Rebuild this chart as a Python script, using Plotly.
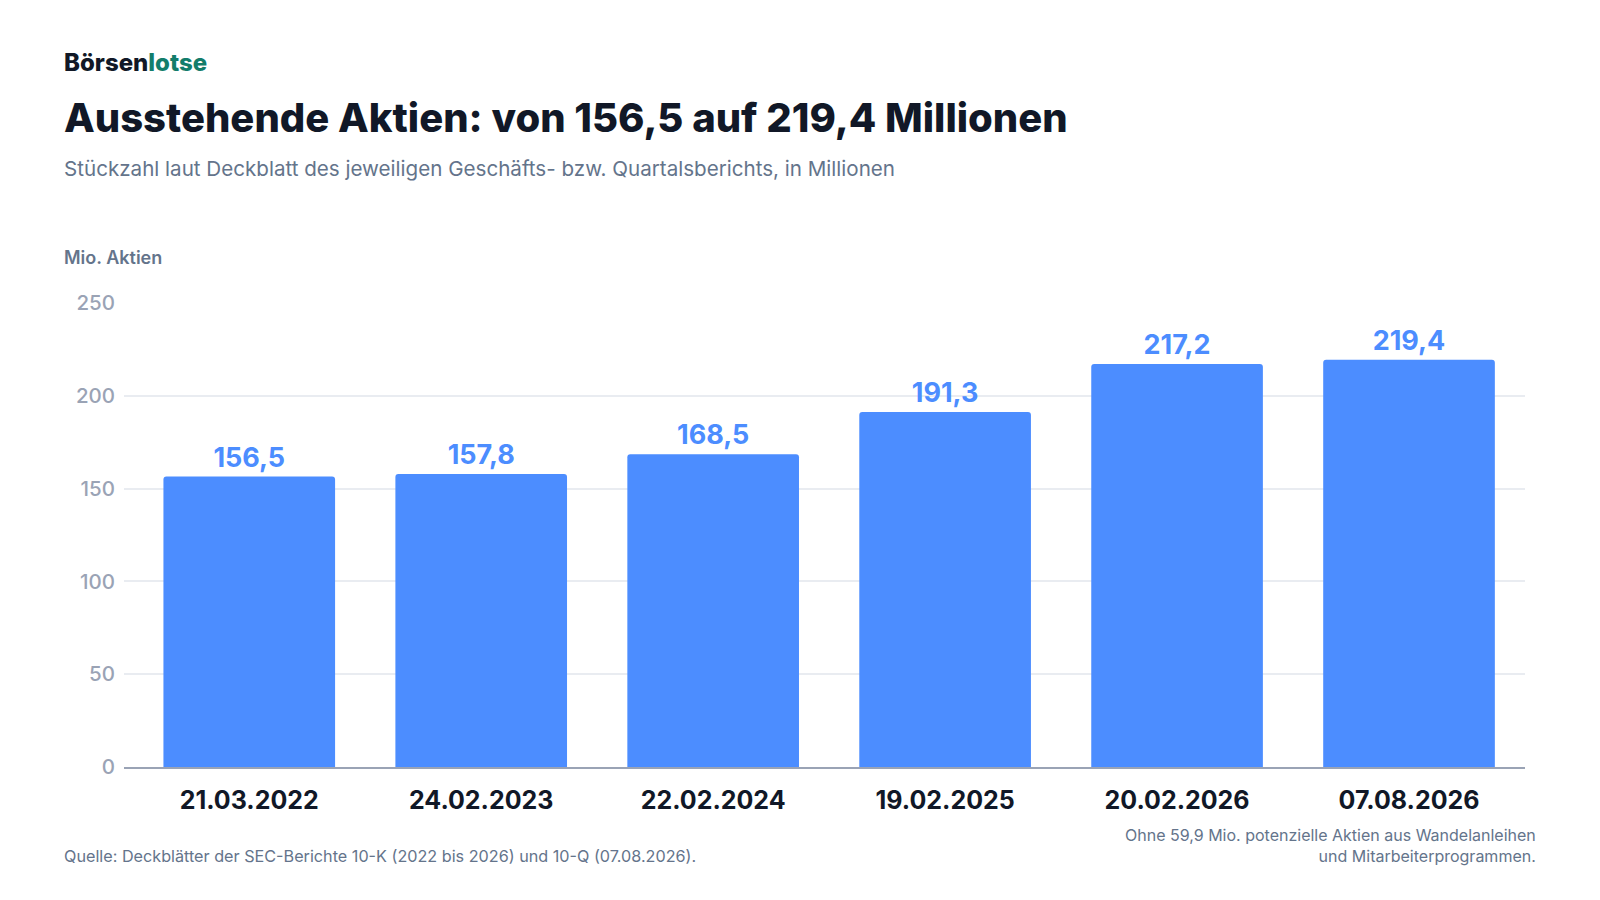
import plotly.graph_objects as go

# Stichtage laut Deckblatt
dates = ["21.03.2022", "24.02.2023", "22.02.2024", "19.02.2025", "20.02.2026", "07.08.2026"]
shares = [156.5, 157.8, 168.5, 191.3, 217.2, 219.4]
y_ticks = [0, 50, 100, 150, 200, 250]

BLUE = "#4c8dff"
DARK = "#111827"
GREY = "#64748b"
TICK = "#9aa3b5"
FONT = "Inter, Noto Sans, sans-serif"

# plot area in px
L, R, T, B = 116, 1517, 295, 759

fig = go.Figure(go.Bar(
    x=dates, y=shares,
    marker=dict(color=BLUE, cornerradius=3, line=dict(width=0)),
    texttemplate="%{y:.1f}", textposition="outside", cliponaxis=False,
    textfont=dict(family=FONT, size=27, color=BLUE, weight=700),
    hoverinfo="skip",
))

fig.update_layout(
    width=1600, height=900, separators=",.",
    paper_bgcolor="white", plot_bgcolor="white",
    margin=dict(l=L, r=1600 - R, t=T, b=900 - B),
    bargap=0.26, showlegend=False,
    font=dict(family=FONT),
    xaxis=dict(range=[-0.54, 5.5], showgrid=False, showline=True, linecolor=TICK, linewidth=2,
               ticks="", ticklabelstandoff=10,
               tickfont=dict(size=25, color=DARK, weight=700), fixedrange=True),
    yaxis=dict(range=[0, 250], tickvals=y_ticks, showgrid=True, gridcolor="#e9ecf1", gridwidth=1.5,
               zeroline=False, ticks="", ticklabelstandoff=8,
               tickfont=dict(size=20.5, color=TICK, weight=500), fixedrange=True),
)

def note(text, x, y, size, color, weight=400, anchor="left"):
    fig.add_annotation(text=text, x=(x - L) / (R - L), y=(B - y) / (B - T),
                       xref="paper", yref="paper", showarrow=False,
                       xanchor=anchor, yanchor="middle", align=anchor,
                       font=dict(family=FONT, size=size, color=color, weight=weight))

note("Börsen<span style='color:#137d6b'>lotse</span>", 54, 54, 24, DARK, 800)
note("Ausstehende Aktien: von 156,5 auf 219,4 Millionen", 54, 110, 40, DARK, 800)
note("Stückzahl laut Deckblatt des jeweiligen Geschäfts- bzw. Quartalsberichts, in Millionen",
     54, 160, 20.6, GREY)
note("Mio. Aktien", 54, 249, 18, GREY, 600)
note("Quelle: Deckblätter der SEC-Berichte 10-K (2022 bis 2026) und 10-Q (07.08.2026).",
     54, 848, 16.2, GREY)
note("Ohne 59,9 Mio. potenzielle Aktien aus Wandelanleihen<br>und Mitarbeiterprogrammen.",
     1530, 837, 16, GREY, anchor="right")

fig.write_html("out.html")
